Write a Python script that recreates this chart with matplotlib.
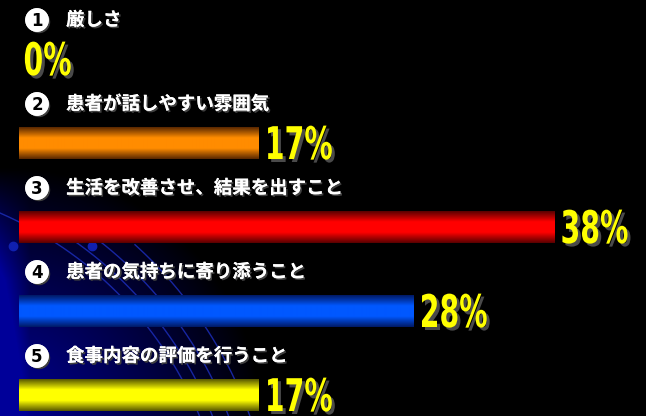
import numpy as np
import matplotlib
matplotlib.use("Agg")
import matplotlib.pyplot as plt
import matplotlib.patheffects as pe
from matplotlib.colors import LinearSegmentedColormap
from matplotlib.textpath import TextPath
from matplotlib.patches import PathPatch
from matplotlib.font_manager import FontProperties
from matplotlib.transforms import Affine2D

# ---- data ----
numbers = ["1", "2", "3", "4", "5"]
labels = ["厳しさ", "患者が話しやすい雰囲気", "生活を改善させ、結果を出すこと",
          "患者の気持ちに寄り添うこと", "食事内容の評価を行うこと"]
values = [0, 17, 38, 28, 17]
value_labels = ["0%", "17%", "38%", "28%", "17%"]
bar_colors = [("#ffff00", "#6a6a00"), ("#ff8c00", "#5a2800"), ("#ff0000", "#5a0000"),
              ("#0058ff", "#001a66"), ("#ffff00", "#585800")]

W, H = 646, 416
fig = plt.figure(figsize=(W / 100, H / 100), dpi=100)
fig.patch.set_facecolor("black")
ax = fig.add_axes([0, 0, 1, 1])
ax.set_facecolor("black")

px_per_unit = 14.08
x0 = 18.5
ax.set_xlim(-x0 / px_per_unit, (W - x0) / px_per_unit)
ax.set_ylim(H, 0)
ax.axis("off")
xl = ax.get_xlim()


def px(xp):
    return xl[0] + xp / px_per_unit


# background blue glow in lower-left
gy, gx = np.mgrid[0:H, 0:W]
d = np.sqrt((gx / 260.0) ** 2 + ((H - gy) / 250.0) ** 2)
alpha = np.clip(1.0 - d, 0, 1) ** 0.9
edge = np.clip(1 - gx / 30.0, 0, 1) * np.clip((gy - 170) / 110.0, 0, 1)
alpha = np.clip(alpha + 0.6 * edge, 0, 1)
bg = np.zeros((H, W, 4))
bg[..., 2] = 0.6
bg[..., 3] = alpha
ax.imshow(bg, extent=(xl[0], xl[1], H, 0), aspect="auto", zorder=0, interpolation="bilinear")

# faint arcs (pixel-space circles centred off-canvas lower-left)
for r, xstart in [(378, -10), (390, 45), (405, 95), (425, 135)]:
    tmax = np.degrees(np.arccos((xstart + 150) / r))
    t = np.radians(np.linspace(15, tmax, 200))
    xs = -150 + r * np.cos(t)
    ys = 560 - r * np.sin(t)
    ax.plot(px(xs), ys, color="#1a2ab0", lw=1.0, zorder=1, alpha=0.9)
for cxp, cyp in [(13, 246), (92, 246)]:
    ax.plot(px(cxp), cyp, "o", color="#1020b0", ms=6, zorder=1)

pitch = 84
bar_h = 32
tshadow = [pe.withSimplePatchShadow(offset=(1.2, -1.2), shadow_rgbFace="#404040", alpha=1.0), pe.Normal()]
vfont = FontProperties(family="DejaVu Sans", weight="bold")
em = 45.0
sx = 0.63

for i, (num, lab, v, vl, (cc, ce)) in enumerate(zip(numbers, labels, values, value_labels, bar_colors)):
    yc = 59 + pitch * i
    ly = yc - 39
    # numbered circle
    ax.plot(px(37), ly, "o", ms=16, color="white", mec="white", zorder=4,
            path_effects=[pe.withSimplePatchShadow(offset=(1.5, -1.5), shadow_rgbFace="#404040", alpha=1), pe.Normal()])
    ax.text(px(37), ly + 0.5, num, color="black", fontsize=12, fontweight="bold",
            ha="center", va="center", family="DejaVu Sans", zorder=5)
    ax.text(px(66), ly, lab, color="white", fontsize=13.3, fontweight="bold",
            ha="left", va="center", family=["Noto Sans CJK JP", "DejaVu Sans"], zorder=5,
            path_effects=tshadow)
    if v > 0:
        bars = ax.barh(yc, v, height=bar_h, left=0, color=cc, zorder=2)
        b = bars[0]
        cmap = LinearSegmentedColormap.from_list("g", [ce, cc, cc, ce])
        grad = np.linspace(0, 1, 64).reshape(-1, 1)
        im = ax.imshow(grad, cmap=cmap, extent=(b.get_x(), b.get_x() + b.get_width(),
                                                 b.get_y() + b.get_height(), b.get_y()),
                       aspect="auto", zorder=3, interpolation="bilinear")
        im.set_clip_path(b)
        end_px = b.get_x() + b.get_width()
        gap = 7
    else:
        end_px = 0.0
        gap = 5
    # condensed percentage label
    X, Y = ax.transData.transform((end_px, yc))
    X += gap
    Y -= 16
    tp = TextPath((0, 0), vl, size=em, prop=vfont)
    sh = PathPatch(tp, transform=Affine2D().scale(sx, 1.0).translate(X + 3, Y - 3),
                   facecolor="#4a4a4a", edgecolor="none", zorder=6)
    fg = PathPatch(tp, transform=Affine2D().scale(sx, 1.0).translate(X, Y),
                   facecolor="#ffff00", edgecolor="none", zorder=7)
    fig.add_artist(sh)
    fig.add_artist(fg)

fig.savefig("out.png", dpi=100, facecolor="black")
